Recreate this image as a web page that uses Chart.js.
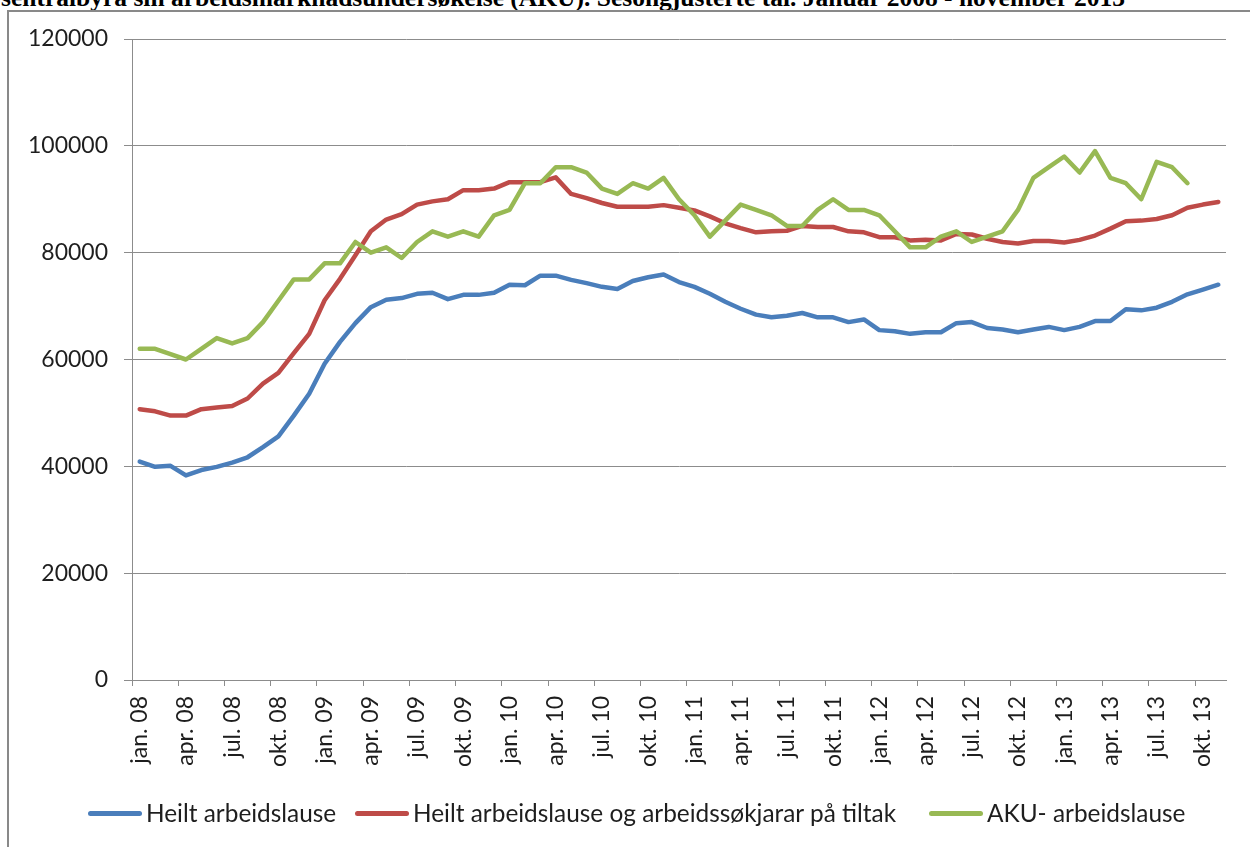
<!DOCTYPE html>
<html>
<head>
<meta charset="utf-8">
<script src="https://cdn.jsdelivr.net/npm/chart.js@4.4.0/dist/chart.umd.min.js"></script>
<style>
  body { margin: 0; background: #fff; width: 1250px; height: 847px; overflow: hidden; position: relative; }
  #title { position: absolute; left: 1px; top: -15px; white-space: nowrap; font: bold 25.5px/26px "Liberation Serif", "Times New Roman", serif; color: #000; }
  #frame { position: absolute; left: 7px; top: 10px; width: 1300px; height: 900px; border: 2px solid #898989; }
  #chart { position: absolute; left: 0; top: 0; }
  .leg { position: absolute; top: 801px; height: 24px; display: flex; align-items: center; font: 24.4px/24px Lato, sans-serif; color: #1e1e1e; white-space: nowrap; }
  .leg span.ln { display: inline-block; width: 54px; height: 5px; border-radius: 3px; margin-right: 4px; }
</style>
</head>
<body>
<div id="title">sentralbyrå sin arbeidsmarknadsundersøkelse (AKU). Sesongjusterte tal. Januar 2008 - november 2013</div>
<div id="frame"></div>
<canvas id="chart" width="1250" height="847"></canvas>
<div id="legend"></div>
<script>
const monthNames = ['jan.', 'feb.', 'mar.', 'apr.', 'mai', 'jun.', 'jul.', 'aug.', 'sep.', 'okt.', 'nov.', 'des.'];
const years = ['08', '09', '10', '11', '12', '13'];

// jan. 08 - nov. 13, one category per month
const categories = [];
years.forEach(y => monthNames.forEach(m => categories.push(m + ' ' + y)));
categories.splice(71);

const seriesNames = [
    'Heilt arbeidslause',
    'Heilt arbeidslause og arbeidssøkjarar på tiltak',
    'AKU- arbeidslause'
];
const seriesColors = ['#4a7ebb', '#be4b48', '#98b954'];

const heiltArbeidslause = [
    40900, 39900, 40100, 38300, 39300, 39900, 40700, 41700, 43600, 45600, 49500, 53600,
    59200, 63300, 66800, 69800, 71200, 71500, 72300, 72500, 71300, 72100, 72100, 72500,
    74000, 73900, 75700, 75700, 74900, 74300, 73600, 73200, 74700, 75400, 75900, 74500,
    73600, 72300, 70800, 69500, 68400, 67900, 68200, 68700, 67900, 67900, 67000, 67500,
    65500, 65300, 64800, 65100, 65100, 66800, 67000, 65900, 65600, 65100, 65600, 66100,
    65500, 66100, 67200, 67200, 69400, 69200, 69700, 70800, 72200, 73100, 74000
];

const medTiltak = [
    50700, 50300, 49500, 49500, 50700, 51000, 51300, 52700, 55500, 57500, 61200, 64800,
    71100, 75100, 79500, 84000, 86200, 87200, 89000, 89600, 90000, 91700, 91700, 92000,
    93200, 93200, 93200, 94100, 91000, 90200, 89300, 88600, 88600, 88600, 88900, 88400,
    87900, 86800, 85500, 84600, 83800, 84000, 84100, 85000, 84800, 84800, 84000, 83800,
    82900, 82900, 82300, 82400, 82300, 83500, 83400, 82600, 82000, 81700, 82200, 82200,
    81900, 82400, 83200, 84500, 85900, 86000, 86300, 87000, 88400, 89000, 89500
];

const akuArbeidslause = [
    62000, 62000, 61000, 60000, 62000, 64000, 63000, 64000, 67000, 71000, 75000, 75000,
    78000, 78000, 82000, 80000, 81000, 79000, 82000, 84000, 83000, 84000, 83000, 87000,
    88000, 93000, 93000, 96000, 96000, 95000, 92000, 91000, 93000, 92000, 94000, 90000,
    87000, 83000, 86000, 89000, 88000, 87000, 85000, 85000, 88000, 90000, 88000, 88000,
    87000, 84000, 81000, 81000, 83000, 84000, 82000, 83000, 84000, 88000, 94000, 96000,
    98000, 95000, 99000, 94000, 93000, 90000, 97000, 96000, 93000, null, null
];

const yMin = 0;
const yMax = 120000;
const yStep = 20000;

const gridGray = '#8c8c8c';
const textColor = '#1e1e1e';

function buildLegend() {
    const lefts = [88, 355, 929];
    const legend = document.getElementById('legend');
    seriesNames.forEach((name, i) => {
        const item = document.createElement('div');
        item.className = 'leg';
        item.style.left = lefts[i] + 'px';
        item.innerHTML = '<span class="ln" style="background:' + seriesColors[i] + '"></span>' + name;
        legend.appendChild(item);
    });
}

function initChart() {
    const ctx = document.getElementById('chart');
    const allData = [heiltArbeidslause, medTiltak, akuArbeidslause];

    new Chart(ctx, {
        type: 'line',
        data: {
            labels: categories,
            datasets: allData.map((d, i) => ({
                label: seriesNames[i],
                data: d,
                borderColor: seriesColors[i],
                backgroundColor: seriesColors[i],
                borderWidth: 4.5,
                pointRadius: 0,
                tension: 0,
                fill: false,
                borderJoinStyle: 'round',
                borderCapStyle: 'round',
                order: 3 - i
            }))
        },
        options: {
            responsive: false,
            animation: false,
            layout: { padding: { top: 39, right: 24, left: 0, bottom: 0 } },
            plugins: {
                legend: { display: false },
                tooltip: { enabled: false }
            },
            scales: {
                x: {
                    offset: true,
                    afterFit: scale => {
                        scale.height = 167;
                        scale.paddingLeft = 0;
                        scale.paddingRight = 0;
                    },
                    grid: {
                        offset: true,
                        drawOnChartArea: false,
                        drawTicks: true,
                        tickLength: 6,
                        color: c => (c.index % 3 === 0 ? gridGray : 'rgba(0,0,0,0)')
                    },
                    border: { display: true, color: gridGray, width: 1 },
                    ticks: {
                        autoSkip: false,
                        minRotation: 90,
                        maxRotation: 90,
                        padding: 10,
                        color: textColor,
                        font: { family: 'Lato', size: 23 },
                        callback: function(value, index) {
                            return index % 3 === 0 ? this.getLabelForValue(value) : '';
                        }
                    }
                },
                y: {
                    min: yMin,
                    max: yMax,
                    afterFit: scale => {
                        scale.width = 132;
                        scale.paddingTop = 0;
                        scale.paddingBottom = 0;
                    },
                    grid: { color: gridGray, lineWidth: 1, tickLength: 8 },
                    border: { display: true, color: gridGray, width: 1 },
                    ticks: {
                        stepSize: yStep,
                        padding: 16,
                        color: textColor,
                        font: { family: 'Lato', size: 23 },
                        callback: value => String(value)
                    }
                }
            }
        }
    });
}

document.addEventListener('DOMContentLoaded', () => {
    buildLegend();
    document.fonts.load('23px Lato').then(initChart, initChart);
});
</script>
</body>
</html>
